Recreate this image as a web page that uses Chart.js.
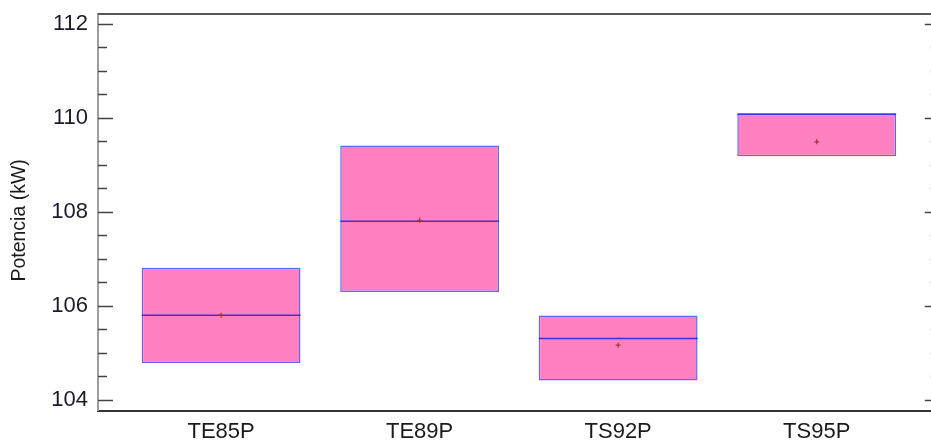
<!DOCTYPE html>
<html>
<head>
<meta charset="utf-8">
<script src="https://cdn.jsdelivr.net/npm/chart.js@4/dist/chart.umd.min.js"></script>
<style>
  html, body { margin: 0; padding: 0; background: #fff; overflow: hidden; }
  #wrap { position: absolute; left: 0; top: 0; width: 945px; height: 444px; }
</style>
</head>
<body>
<div id="wrap"><canvas id="chart"></canvas></div>
<script>
// Potencia por tipo: caja = rango (mín–máx), línea = mediana, cruz = media
const categories = ['TE85P', 'TE89P', 'TS92P', 'TS95P'];
const lows    = [104.78, 106.29, 104.41, 109.18];
const highs   = [106.81, 109.41, 105.79, 110.08];
const medians = [105.80, 107.80, 105.30, 110.08];
const means   = [105.80, 107.82, 105.16, 109.49];
const yLabelTicks = [104, 106, 108, 110, 112];

const positions = categories.map((_, i) => i + 1);

// Median line across each box, drawn right after the boxes
const medianPlugin = {
  id: 'medianLines',
  afterDatasetDraw(chart, args) {
    if (args.index !== 0) return;
    const ctx = chart.ctx;
    const y = chart.scales.y;
    const meta = chart.getDatasetMeta(0);
    ctx.save();
    ctx.strokeStyle = 'rgba(30,30,225,0.85)';
    ctx.lineWidth = 1.5;
    meta.data.forEach((bar, i) => {
      const half = bar.width / 2;
      const py = y.getPixelForValue(medians[i]);
      ctx.beginPath();
      ctx.moveTo(bar.x - half, py);
      ctx.lineTo(bar.x + half, py);
      ctx.stroke();
    });
    ctx.restore();
  }
};

// Frame top line and inward tick marks on both vertical sides
const framePlugin = {
  id: 'frame',
  afterDraw(chart) {
    const ctx = chart.ctx;
    const a = chart.chartArea;
    const y = chart.scales.y;
    ctx.save();
    ctx.strokeStyle = '#555';
    ctx.lineWidth = 2;
    ctx.beginPath();
    ctx.moveTo(a.left, a.top);
    ctx.lineTo(a.right, a.top);
    ctx.stroke();
    ctx.strokeStyle = '#444';
    ctx.lineWidth = 1.5;
    for (let v = 104; v <= 112.001; v += 0.5) {
      const major = Math.abs(v / 2 - Math.round(v / 2)) < 1e-6;
      const len = major ? 15 : 9;
      const py = Math.round(y.getPixelForValue(v)) + 0.5;
      ctx.beginPath();
      ctx.moveTo(a.left, py);
      ctx.lineTo(a.left + len, py);
      ctx.moveTo(a.right, py);
      ctx.lineTo(a.right - len, py);
      ctx.stroke();
    }
    ctx.restore();
  }
};

new Chart(document.getElementById('chart'), {
  data: {
    datasets: [
      {
        type: 'bar',
        label: 'Rango',
        data: positions.map((x, i) => ({ x: x, y: [lows[i], highs[i]] })),
        backgroundColor: '#ff80c0',
        borderColor: 'rgba(70,70,255,0.85)',
        borderWidth: 1.5,
        borderSkipped: false,
        barPercentage: 0.8,
        categoryPercentage: 1.0,
        order: 1
      },
      {
        type: 'scatter',
        label: 'Media',
        data: positions.map((x, i) => ({ x: x, y: means[i] })),
        pointStyle: 'cross',
        radius: 2.5,
        borderWidth: 1.2,
        borderColor: '#a03838',
        backgroundColor: '#a03838',
        order: 0
      }
    ]
  },
  options: {
    responsive: true,
    maintainAspectRatio: false,
    animation: false,
    layout: { padding: { left: 0, right: 5, top: 14, bottom: 0 } },
    plugins: { legend: { display: false }, tooltip: { enabled: false } },
    scales: {
      x: {
        type: 'linear',
        min: 0.38,
        max: 4.62,
        offset: false,
        grid: { display: false, drawTicks: false },
        border: { display: true, color: '#333', width: 2 },
        afterBuildTicks(scale) { scale.ticks = positions.map(v => ({ value: v })); },
        afterFit(scale) { scale.height = 33.5; },
        ticks: {
          autoSkip: false,
          maxRotation: 0,
          padding: 8,
          color: '#1a1a1a',
          font: { family: 'Liberation Sans, Arial, sans-serif', size: 22 },
          callback: (v) => categories[Math.round(v) - 1]
        }
      },
      y: {
        min: 103.77,
        max: 112.21,
        grid: { display: false, drawTicks: false },
        border: { display: true, color: '#a0a0a0', width: 2 },
        afterBuildTicks(scale) { scale.ticks = yLabelTicks.map(v => ({ value: v })); },
        afterFit(scale) { scale.width = 98; },
        ticks: {
          padding: 10,
          color: '#1a1a2a',
          font: { family: 'Liberation Sans, Arial, sans-serif', size: 22, lineHeight: 0.3 }
        },
        title: {
          display: true,
          text: 'Potencia (kW)   ',
          color: '#1a1a1a',
          padding: { top: 8, bottom: 0 },
          font: { family: 'Liberation Sans, Arial, sans-serif', size: 19.5 }
        }
      }
    }
  },
  plugins: [medianPlugin, framePlugin]
});
</script>
</body>
</html>
